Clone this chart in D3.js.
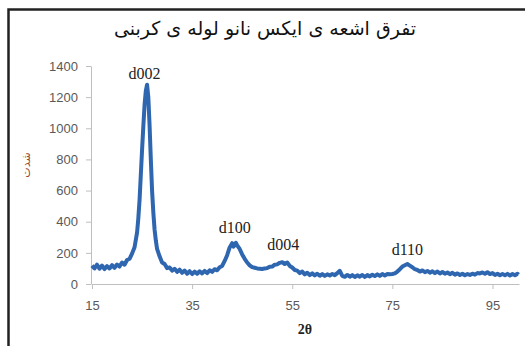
<!DOCTYPE html>
<html>
<head>
<meta charset="utf-8">
<script src="https://cdn.jsdelivr.net/npm/d3@7"></script>
<style>
  body { margin: 0; background: #fff; }
  #chart { width: 525px; height: 346px; }
</style>
</head>
<body>
<div id="chart"></div>
<script>
// XRD pattern of carbon nanotubes
const angles = [15, 15.5, 16, 16.5, 17, 17.5, 18, 18.5, 19, 19.5, 20, 20.5, 21, 21.5, 22, 22.5, 23, 23.5, 24,
  24.25, 24.5, 24.75, 25, 25.25, 25.5, 25.75, 26, 26.25, 26.5, 26.75, 27, 27.25, 27.5, 27.75, 28, 28.5, 29, 29.5,
  30, 30.5, 31, 31.5, 32, 32.5, 33, 33.5, 34, 34.5, 35, 35.5, 36, 36.5, 37, 37.5, 38, 38.5, 39, 39.5,
  40, 40.5, 41, 41.5, 42, 42.5, 43, 43.25, 43.5, 43.75, 44, 44.5, 45, 45.5, 46, 46.5, 47, 47.5, 48, 48.5, 49, 49.5,
  50, 50.5, 51, 51.5, 52, 52.5, 53, 53.5, 54, 54.5, 55, 55.5, 56, 56.5, 57, 57.5, 58, 58.5, 59, 59.5,
  60, 60.5, 61, 61.5, 62, 62.5, 63, 63.5, 64, 64.5, 65, 65.5, 66, 66.5, 67, 67.5, 68, 68.5, 69, 69.5,
  70, 70.5, 71, 71.5, 72, 72.5, 73, 73.5, 74, 74.5, 75, 75.5, 76, 76.5, 77, 77.5, 78, 78.5, 79, 79.5,
  80, 80.5, 81, 81.5, 82, 82.5, 83, 83.5, 84, 84.5, 85, 85.5, 86, 86.5, 87, 87.5, 88, 88.5, 89, 89.5,
  90, 90.5, 91, 91.5, 92, 92.5, 93, 93.5, 94, 94.5, 95, 95.5, 96, 96.5, 97, 97.5, 98, 98.5, 99, 99.5, 100, 100.2];

const counts = [118, 100, 124, 98, 118, 96, 115, 100, 121, 104, 125, 112, 138, 124, 154, 162, 195, 236, 330,
  420, 540, 700, 860, 1010, 1150, 1240, 1280, 1200, 1020, 800, 600, 460, 350, 280, 225, 178, 138, 128,
  102, 106, 86, 98, 78, 92, 72, 86, 66, 82, 64, 80, 66, 82, 68, 84, 70, 88, 78, 95,
  88, 108, 116, 148, 185, 235, 262, 240, 250, 265, 248, 225, 190, 162, 138, 120, 108, 104, 100, 98, 96, 100,
  102, 111, 112, 124, 126, 136, 140, 128, 138, 116, 106, 90, 86, 70, 80, 62, 72, 57, 68, 55,
  66, 53, 64, 52, 62, 55, 64, 57, 70, 85, 52, 46, 58, 47, 57, 45, 56, 47, 58, 45,
  57, 49, 60, 51, 62, 52, 64, 55, 64, 62, 64, 68, 80, 95, 112, 120, 128, 118, 108, 95,
  90, 80, 87, 76, 84, 73, 82, 70, 80, 68, 77, 66, 74, 63, 72, 60, 68, 58, 66, 56,
  64, 58, 66, 60, 70, 68, 74, 66, 76, 64, 70, 58, 66, 56, 64, 56, 65, 55, 64, 56, 66, 60];

const xTicks = [15, 35, 55, 75, 95];
const yTicks = [0, 200, 400, 600, 800, 1000, 1200, 1400];

const peakNames = ["d002", "d100", "d004", "d110"];
const peakAngles = [25.5, 43.5, 53.2, 78.0];
const peakCounts = [1315, 330, 220, 188];

const title = "تفرق اشعه ی ایکس نانو لوله ی کربنی";

const width = 525, height = 346;

const svg = d3.select("#chart").append("svg")
    .attr("width", width)
    .attr("height", height);

// frame (only top and left edges are visible)
svg.append("path")
    .attr("d", `M8.5,${height} V9.5 H${width}`)
    .attr("fill", "none")
    .attr("stroke", "#222")
    .attr("stroke-width", 2.5);

const x = d3.scaleLinear().domain([15, 100.3]).range([92, 519]);
const y = d3.scaleLinear().domain([0, 1400]).range([284, 66]);

// x axis
const gx = svg.append("g")
    .attr("transform", `translate(0,${y(0)})`)
    .call(d3.axisBottom(x).tickValues(xTicks).tickSize(5).tickPadding(12).tickSizeOuter(0));
gx.select(".domain").attr("stroke", "#bfbfbf");
gx.selectAll(".tick line").attr("stroke", "#bfbfbf");
gx.selectAll("text").attr("fill", "#595959")
    .style("font-family", "Liberation Sans, Arial, sans-serif").style("font-size", "13px");

// y axis
const gy = svg.append("g")
    .attr("transform", `translate(${x(15) - 1},0)`)
    .call(d3.axisLeft(y).tickValues(yTicks).tickFormat(d3.format("d"))
        .tickSize(5).tickPadding(8).tickSizeOuter(0));
gy.select(".domain").attr("stroke", "#bfbfbf");
gy.selectAll(".tick line").attr("stroke", "#bfbfbf");
gy.selectAll("text").attr("fill", "#595959")
    .style("font-family", "Liberation Sans, Arial, sans-serif").style("font-size", "13px");

// pattern
const line = d3.line()
    .x((d, i) => x(angles[i]))
    .y(d => y(d));

svg.append("path")
    .datum(counts)
    .attr("d", line)
    .attr("fill", "none")
    .attr("stroke", "#2f66b0")
    .attr("stroke-width", 4)
    .attr("stroke-linejoin", "round");

// peak labels
svg.selectAll(".peak")
    .data(peakNames)
    .enter()
    .append("text")
    .attr("class", "peak")
    .attr("x", (d, i) => x(peakAngles[i]))
    .attr("y", (d, i) => y(peakCounts[i]))
    .attr("text-anchor", "middle")
    .style("font-family", "Liberation Serif, Times New Roman, serif")
    .style("font-size", "16px")
    .attr("fill", "#222")
    .text(d => d);

// titles
svg.append("text")
    .attr("x", 265)
    .attr("y", 35)
    .attr("text-anchor", "middle")
    .attr("direction", "rtl")
    .style("font-family", "DejaVu Sans, sans-serif")
    .style("font-size", "19px")
    .attr("fill", "#111")
    .text(title);

svg.append("text")
    .attr("x", 305)
    .attr("y", 334)
    .attr("text-anchor", "middle")
    .style("font-family", "Liberation Serif, serif")
    .style("font-weight", "bold")
    .style("font-size", "14px")
    .attr("fill", "#222")
    .text("2θ");

svg.append("text")
    .attr("transform", "translate(30,165) rotate(-90)")
    .attr("text-anchor", "middle")
    .style("font-family", "DejaVu Sans, sans-serif")
    .style("font-size", "11px")
    .attr("fill", "#9a4a2a")
    .text("شدت");
</script>
</body>
</html>
